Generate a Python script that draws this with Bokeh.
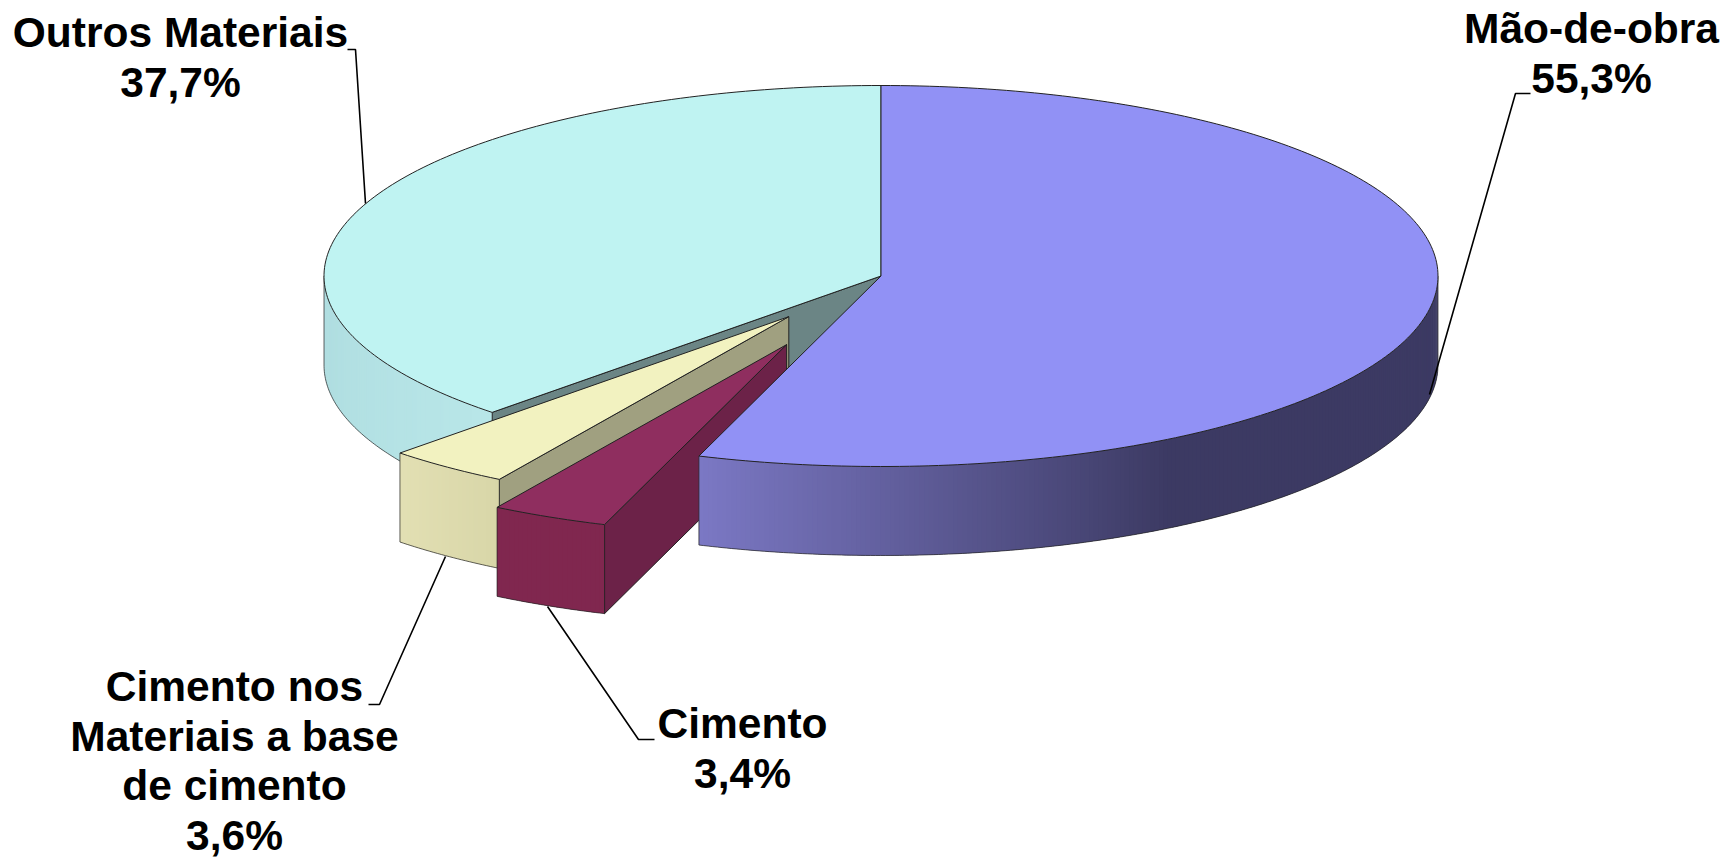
import math
from bokeh.plotting import figure
from bokeh.models import Range1d
from bokeh.core.properties import value
from bokeh.embed import file_html
from bokeh.resources import INLINE

# Data (clockwise from 12 o'clock)
categories = ["Mão-de-obra", "Cimento", "Cimento nos\nMateriais a base\nde cimento", "Outros Materiais"]
shares = [55.3, 3.4, 3.6, 37.7]
share_labels = ["55,3%", "3,4%", "3,6%", "37,7%"]

# Style and layout
explode = [0.0, 0.398, 0.27, 0.0]
top_colors = ["#9191F5", "#8F2E5F", "#F2F2C0", "#BFF3F2"]
radial_colors = [None, "#6C2248", "#A0A080", "#6B8585"]
wall_stops = [
    [(199, "#7B78C4"), (149, "#3C3A63"), (90, "#3C3A63")],
    [(199, "#80274F"), (212, "#80274F")],
    [(211, "#D8D6A8"), (225, "#E3E0B4")],
    [(225, "#B8E6E8"), (270, "#AEDCDF")],
]
CX, CY, RX, RY, DEPTH = 880.5, 275.5, 557.0, 190.5, 89.0
LINE = "#222222"
W, H = 1723, 858
label_x = [1591, 742, 234, 180]
label_first_y = [28, 723, 686, 32]
line_step = 49.5
leaders = [
    ([1530, 1515, 1429], [93, 93, 394]),
    ([654, 638, 547], [739, 739, 606]),
    ([368, 379, 445], [704, 704, 556]),
    ([347, 355, 365], [49, 49, 203]),
]


def hex2rgb(c):
    return [int(c[i:i + 2], 16) for i in (1, 3, 5)]


def stop_color(stops, t):
    stops = sorted(stops)
    if t <= stops[0][0]:
        return stops[0][1]
    if t >= stops[-1][0]:
        return stops[-1][1]
    for (a, ca), (b, cb) in zip(stops, stops[1:]):
        if a <= t <= b:
            f = (t - a) / (b - a)
            ra, rb = hex2rgb(ca), hex2rgb(cb)
            return "#%02x%02x%02x" % tuple(round(u + (v - u) * f) for u, v in zip(ra, rb))
    return stops[-1][1]


def rim(ox, oy, t):
    r = math.radians(t)
    return ox + RX * math.sin(r), oy - RY * math.cos(r)


def arc(ox, oy, a, b, step=1.0):
    n = max(2, int(abs(b - a) / step) + 1)
    return [rim(ox, oy, a + (b - a) * i / (n - 1)) for i in range(n)]


p = figure(width=W, height=H, x_range=Range1d(0, W), y_range=Range1d(H, 0),
           output_backend="svg", toolbar_location=None, min_border=0)
p.axis.visible = False
p.grid.visible = False
p.outline_line_color = None
p.background_fill_color = "white"

angles = []
acc = 0.0
for s in shares:
    angles.append((acc / 100 * 360, (acc + s) / 100 * 360))
    acc += s

offsets = []
for (a, b), e in zip(angles, explode):
    m = math.radians((a + b) / 2)
    offsets.append((CX + RX * e * math.sin(m), CY - RY * e * math.cos(m)))

# Painter's order: back slice first, the largest slice last
for i in [3, 2, 1, 0]:
    a, b = angles[i]
    ox, oy = offsets[i]
    # radial wall on the slice's starting side
    if radial_colors[i]:
        rx0, ry0 = rim(ox, oy, a)
        p.patch([ox, rx0, rx0, ox], [oy, ry0, ry0 + DEPTH, oy + DEPTH],
                fill_color=radial_colors[i], line_color=LINE, line_width=1)
    # curved outer wall, only the front half is visible
    w0, w1 = max(a, 90), min(b, 270)
    if w1 > w0:
        pts = arc(ox, oy, w0, w1, 0.5)
        ts = [w0 + (w1 - w0) * k / (len(pts) - 1) for k in range(len(pts))]
        # each band overlaps the next so that no seams show
        for k in range(len(pts) - 1):
            c = stop_color(wall_stops[i], (ts[k] + ts[k + 1]) / 2)
            sub = pts[k:k + 3]
            xs = [q[0] for q in sub]
            ys = [q[1] for q in sub]
            p.patch(xs + xs[::-1], ys + [y + DEPTH for y in ys[::-1]],
                    fill_color=c, line_color=None)
        xs = [q[0] for q in pts]
        ys = [q[1] for q in pts]
        p.line(xs, [y + DEPTH for y in ys], line_color=LINE, line_width=1, line_alpha=0.7)
        p.line([xs[0], xs[0]], [ys[0], ys[0] + DEPTH], line_color=LINE, line_width=1, line_alpha=0.7)
        p.line([xs[-1], xs[-1]], [ys[-1], ys[-1] + DEPTH], line_color=LINE, line_width=1, line_alpha=0.7)
    # top face
    pts = arc(ox, oy, a, b, 1.0)
    p.patch([ox] + [q[0] for q in pts], [oy] + [q[1] for q in pts],
            fill_color=top_colors[i], line_color=LINE, line_width=1)

# Leader lines
for lx, ly in leaders:
    p.line(lx, ly, line_color="#000000", line_width=1.6)

# Labels
for i, name in enumerate(categories):
    lines = name.split("\n") + [share_labels[i]]
    ys = [label_first_y[i] + line_step * k for k in range(len(lines))]
    p.text([label_x[i]] * len(lines), ys, text=lines, text_font=value("Liberation Sans"),
           text_font_style="bold", text_font_size="42.5px", text_color="#000000",
           text_align="center", text_baseline="middle")

open("out.html", "w").write(file_html(p, INLINE))
